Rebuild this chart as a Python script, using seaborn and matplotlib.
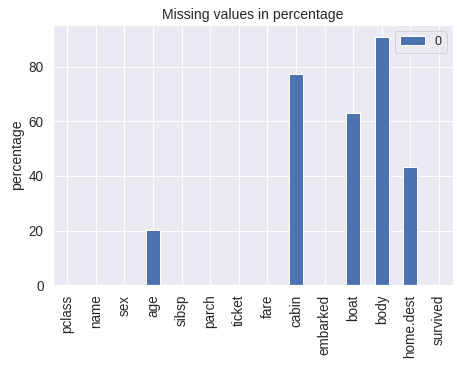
import matplotlib
matplotlib.use("Agg")
import matplotlib.pyplot as plt
import seaborn as sns
import pandas as pd

columns = ["pclass", "name", "sex", "age", "sibsp", "parch", "ticket", "fare",
           "cabin", "embarked", "boat", "body", "home.dest", "survived"]
missing_pct = [0.0, 0.0, 0.0, 20.09, 0.0, 0.0, 0.0, 0.08,
               77.46, 0.15, 62.87, 90.76, 43.09, 0.0]
series_name = "0"

sns.set_theme(style="darkgrid")
plt.rcParams["font.family"] = ["Liberation Sans", "DejaVu Sans"]
df = pd.DataFrame({"column": columns, "pct": missing_pct})

fig = plt.figure(figsize=(461/72, 366/72), dpi=72)
ax = fig.add_axes([0.115, 0.221, 0.868, 0.711])
sns.barplot(data=df, x="column", y="pct", color="#4c72b0", saturation=1,
            width=0.5, label=series_name, ax=ax)
ax.set_xlim(-0.5, len(columns) - 0.5)
ax.set_ylim(0, 95.3)
ax.set_yticks([0, 20, 40, 60, 80])
ax.xaxis.grid(True)
ax.yaxis.grid(True)
ax.set_axisbelow(True)
ax.set_xlabel("")
ax.set_ylabel("percentage", fontsize=14)
ax.set_title("Missing values in percentage", fontsize=14)
ax.tick_params(axis="x", rotation=90, labelsize=13.5)
ax.tick_params(axis="y", labelsize=13.5)
ax.legend(loc="upper right", fontsize=12.5, handlelength=2.0)
fig.savefig("out.png", dpi=72)
